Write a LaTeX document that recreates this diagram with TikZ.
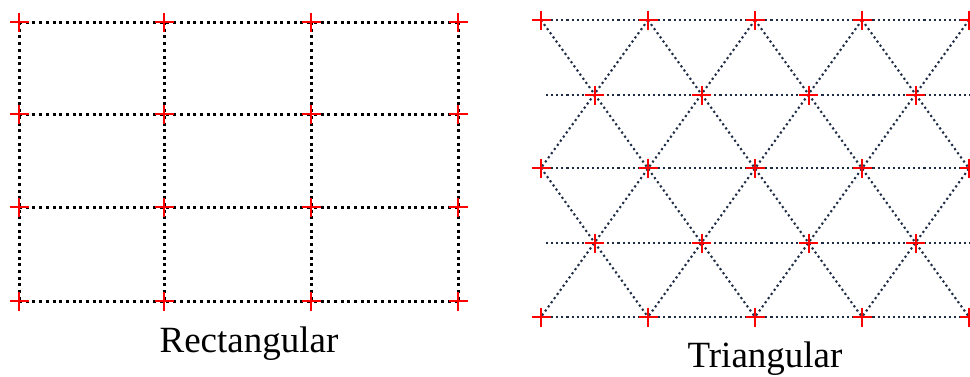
\documentclass[tikz,border=0pt]{standalone}
\usepackage{fontspec}
\setmainfont{Liberation Serif}
\definecolor{latnavy}{RGB}{31,45,68}
\tikzset{
  rectline/.style={black, line width=3pt, dash pattern=on 3pt off 3.7pt},
  triline/.style={latnavy, line width=2.1pt, dash pattern=on 2.1pt off 3pt},
  crossmark/.style={red, line width=2pt},
  captext/.style={font=\fontsize{37}{40}\selectfont, anchor=base, inner sep=0pt}
}
\newcommand\latcross[1]{\draw[crossmark,shift={(#1)}] (-9.5,0) -- (9.5,0) (0,-9.5) -- (0,9.5);}
\begin{document}
\begin{tikzpicture}[x=1pt,y=-1pt]
\useasboundingbox (0,0) rectangle (970,376);
% ---------- rectangular lattice ----------
\foreach \i/\x in {0/19,1/164,2/311,3/458}
  \foreach \j/\y in {0/22,1/114,2/207,3/301}
    \coordinate (r\i\j) at (\x,\y);
\foreach \j in {0,...,3} \draw[rectline] (r0\j) -- (r3\j);
\foreach \i in {0,...,3} \draw[rectline] (r\i0) -- (r\i3);
\foreach \i in {0,...,3}
  \foreach \j in {0,...,3}
    {\latcross{r\i\j}}
% ---------- triangular lattice ----------
\foreach \r/\y in {0/20,2/168,4/317}
  \foreach \k in {0,...,5}
    \coordinate (t\r-\k) at ({541+107*\k},\y);
\foreach \r/\y in {1/95,3/243}
  \foreach \k in {0,...,4}
    \coordinate (t\r-\k) at ({594.5+107*\k},\y);
\foreach \r/\y in {0/20,1/95,2/168,3/243,4/317}
  {\coordinate (hl\r) at (546,\y); \coordinate (hr\r) at (976,\y);
   \draw[triline] (hl\r) -- (hr\r);}
% down-right diagonals
\foreach \k/\m in {0/2,1/3,2/4,3/5} \draw[triline] (t0-\k) -- (t4-\m);
\draw[triline] (t2-0) -- (t4-1);
% down-left diagonals
\foreach \k/\m in {2/0,3/1,4/2,5/3} \draw[triline] (t0-\k) -- (t4-\m);
\draw[triline] (t0-1) -- (t2-0);
% crosses
\foreach \r in {0,2,4}
  \foreach \k in {0,...,4}
    {\latcross{t\r-\k}}
\foreach \r in {1,3}
  \foreach \k in {0,...,3}
    {\latcross{t\r-\k}}
% ---------- captions ----------
\node[captext] (rectcap) at (249,352) {Rectangular};
\node[captext] (tricap) at (765,367) {Triangular};
\end{tikzpicture}
\end{document}
